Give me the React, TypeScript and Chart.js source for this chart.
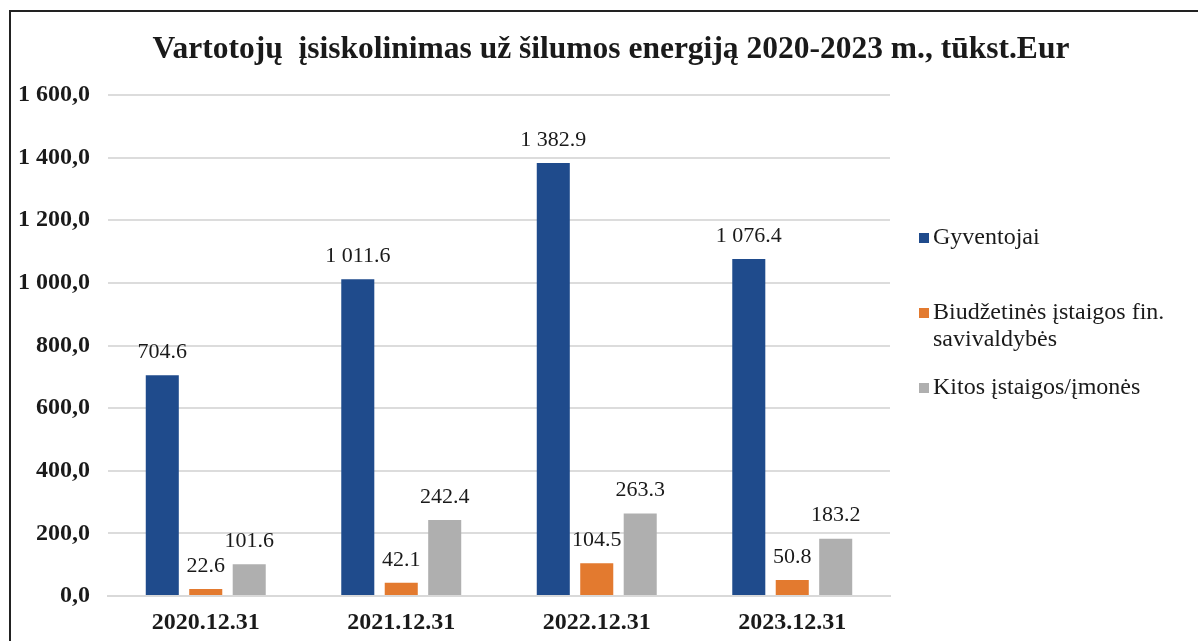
import React, { useEffect, useRef } from "react";
import { Chart, registerables } from "chart.js";

Chart.register(...registerables);

const categories = ["2020.12.31", "2021.12.31", "2022.12.31", "2023.12.31"];
const seriesNames = ["Gyventojai", "Biudžetinės įstaigos fin. savivaldybės", "Kitos įstaigos/įmonės"];
const legendLines = [["Gyventojai"], ["Biudžetinės įstaigos fin.", "savivaldybės"], ["Kitos įstaigos/įmonės"]];
const gyventojai = [704.6, 1011.6, 1382.9, 1076.4];
const biudzetines = [22.6, 42.1, 104.5, 50.8];
const kitos = [101.6, 242.4, 263.3, 183.2];
const colors = ["#1f4b8c", "#e37a2f", "#afafaf"];
const titleText = "Vartotojų  įsiskolinimas už šilumos energiją 2020-2023 m., tūkst.Eur";
const yMax = 1600;
const yStep = 200;

const SERIF = "'Liberation Serif', 'Times New Roman', serif";

function fmtTick(v: number): string {
  const s = v.toFixed(1).replace(".", ",");
  const [i, d] = s.split(",");
  return i.replace(/\B(?=(\d{3})+(?!\d))/g, " ") + "," + d;
}
function fmtLabel(v: number): string {
  const s = v.toFixed(1);
  const [i, d] = s.split(".");
  return i.replace(/\B(?=(\d{3})+(?!\d))/g, " ") + "." + d;
}

const overlayPlugin = {
  id: "overlay",
  afterDatasetsDraw(chart: any) {
    const ctx = chart.ctx;
    ctx.save();
    ctx.fillStyle = "#1a1a1a";
    ctx.font = `22px ${SERIF}`;
    ctx.textAlign = "center";
    ctx.textBaseline = "bottom";
    chart.data.datasets.forEach((ds: any, di: number) => {
      const meta = chart.getDatasetMeta(di);
      meta.data.forEach((bar: any, i: number) => {
        ctx.fillText(fmtLabel(ds.data[i]), bar.x, bar.y - 12);
      });
    });
    ctx.restore();
  },
  afterDraw(chart: any) {
    const ctx = chart.ctx;
    ctx.save();
    // title
    ctx.fillStyle = "#1a1a1a";
    ctx.font = `bold 31.5px ${SERIF}`;
    ctx.textAlign = "center";
    ctx.textBaseline = "middle";
    ctx.fillText(titleText, 611, 50);
    // legend
    const ys = [238, 313, 388];
    ctx.font = `24px ${SERIF}`;
    ctx.textAlign = "left";
    legendLines.forEach((lines, k) => {
      ctx.fillStyle = colors[k];
      ctx.fillRect(919, ys[k] - 5, 10, 10);
      ctx.fillStyle = "#1a1a1a";
      lines.forEach((ln, j) => {
        ctx.fillText(ln, 933, ys[k] + j * 27);
      });
    });
    ctx.restore();
  },
};

export default function App() {
  const ref = useRef<HTMLCanvasElement>(null);
  useEffect(() => {
    if (!ref.current) return;
    const chart = new Chart(ref.current, {
      type: "bar",
      data: {
        labels: categories,
        datasets: [
          { label: seriesNames[0], data: gyventojai, backgroundColor: colors[0] },
          { label: seriesNames[1], data: biudzetines, backgroundColor: colors[1] },
          { label: seriesNames[2], data: kitos, backgroundColor: colors[2] },
        ],
      },
      options: {
        animation: false,
        responsive: false,
        maintainAspectRatio: false,
        layout: { padding: { left: 0, right: 308, top: 95, bottom: 5 } },
        datasets: { bar: { categoryPercentage: 0.667, barPercentage: 0.76 } },
        plugins: { legend: { display: false }, title: { display: false }, tooltip: { enabled: false } },
        scales: {
          x: {
            afterFit: (s: any) => { s.height = 40; },
            grid: { display: false, drawTicks: false },
            border: { display: true, color: "#d9d9d9", width: 2 },
            ticks: { color: "#1a1a1a", font: { family: SERIF, size: 24, weight: "bold" }, padding: 12 },
          },
          y: {
            min: 0,
            max: yMax,
            afterFit: (s: any) => { s.width = 108; },
            grid: { color: "#dcdcdc", lineWidth: 2, drawTicks: false },
            border: { display: false },
            ticks: {
              stepSize: yStep,
              color: "#1a1a1a",
              font: { family: SERIF, size: 24, weight: "bold" },
              padding: 18,
              callback: (v: any) => fmtTick(Number(v)),
            },
          },
        },
      },
      plugins: [overlayPlugin],
    });
    return () => chart.destroy();
  }, []);
  return (
    <div style={{ position: "fixed", left: 0, top: 0, width: 1198, height: 641, background: "#fff" }}>
      <canvas ref={ref} width={1198} height={641} style={{ position: "absolute", left: 0, top: 0 }} />
      <div style={{ position: "absolute", left: 9, top: 10, right: 0, bottom: 0, borderTop: "2px solid #222", borderLeft: "2px solid #222", pointerEvents: "none" }} />
    </div>
  );
}
